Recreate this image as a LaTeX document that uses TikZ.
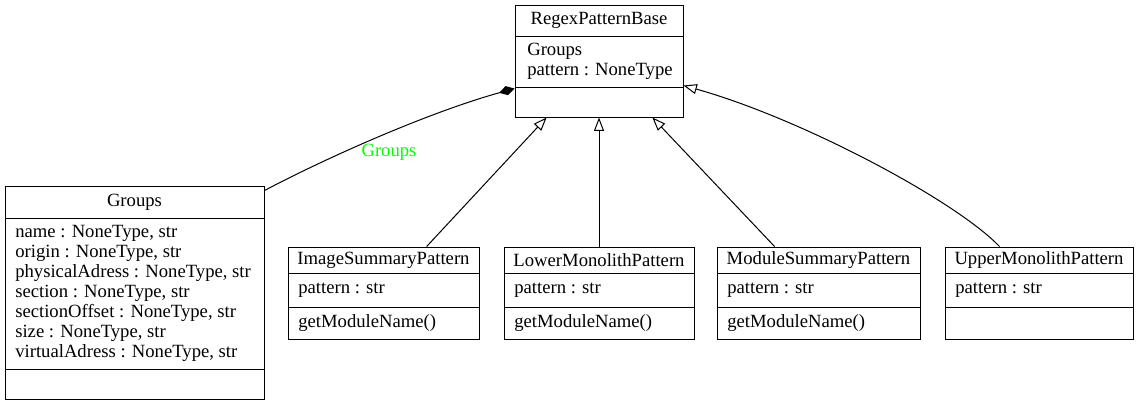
\documentclass[tikz,border=0pt]{standalone}
\usepackage{fontspec}
\setmainfont{Liberation Serif}
\newfontfamily\tmsfont{Liberation Serif}
\usetikzlibrary{arrows.meta,fit,calc}
\definecolor{lblgreen}{RGB}{0,255,0}
\tikzset{
  box/.style={draw, inner sep=0pt, line width=0.75pt},
  sep/.style={line width=0.75pt},
  lbl/.style={font=\tmsfont\fontsize{14}{15}\selectfont, inner sep=0pt},
  attr/.style={lbl, anchor=west, align=left},
  inherit/.style={-{Triangle[open,fill=white,length=10pt,width=7.5pt]}, line width=0.75pt},
  compose/.style={-{Diamond[fill=black,length=12pt,width=7pt]}, line width=0.75pt},
}
\begin{document}
\begin{tikzpicture}[x=0.75pt,y=-0.75pt]
\useasboundingbox (0,0) rectangle (1138,405);
% RegexPatternBase
\node[box, fit={(515,5) (683,117)}] (base) {};
\draw[sep] (515,36) -- (683,36);
\draw[sep] (515,87) -- (683,87);
\node[lbl] (baseT) at (599,20.5) {RegexPatternBase};
\node[attr] (baseA) at (527,61.5) {Groups\\pattern : NoneType};
% Groups
\node[box, fit={(5,186) (264,399)}] (groups) {};
\draw[sep] (5,218) -- (264,218);
\draw[sep] (5,369) -- (264,369);
\node[lbl] (groupsT) at (134.5,202) {Groups};
\node[attr] (groupsA) at (15,293) {name : NoneType, str\\origin : NoneType, str\\physicalAdress : NoneType, str\\section : NoneType, str\\sectionOffset : NoneType, str\\size : NoneType, str\\virtualAdress : NoneType, str};
% ImageSummaryPattern
\node[box, fit={(288,247) (479,339)}] (img) {};
\draw[sep] (288,273) -- (479,273);
\draw[sep] (288,307) -- (479,307);
\node[lbl] (imgT) at (383.5,260) {ImageSummaryPattern};
\node[attr] (imgA) at (298,290) {pattern : str};
\node[attr] (imgM) at (298,323) {getModuleName()};
% LowerMonolithPattern
\node[box, fit={(504,247) (694,339)}] (lower) {};
\draw[sep] (504,273) -- (694,273);
\draw[sep] (504,307) -- (694,307);
\node[lbl] (lowerT) at (599,260) {LowerMonolithPattern};
\node[attr] (lowerA) at (514,290) {pattern : str};
\node[attr] (lowerM) at (514,323) {getModuleName()};
% ModuleSummaryPattern
\node[box, fit={(717,247) (920,339)}] (module) {};
\draw[sep] (717,273) -- (920,273);
\draw[sep] (717,307) -- (920,307);
\node[lbl] (moduleT) at (818.5,260) {ModuleSummaryPattern};
\node[attr] (moduleA) at (727,290) {pattern : str};
\node[attr] (moduleM) at (727,323) {getModuleName()};
% UpperMonolithPattern
\node[box, fit={(945,247) (1133,339)}] (upper) {};
\draw[sep] (945,273) -- (1133,273);
\draw[sep] (945,307) -- (1133,307);
\node[lbl] (upperT) at (1039,260) {UpperMonolithPattern};
\node[attr] (upperA) at (955,290) {pattern : str};
% edges
\draw[inherit] (img) -- (base);
\draw[inherit] (lower) -- (base);
\draw[inherit] (module) -- (base);
\coordinate (uS) at ($(upper.north west)+(55,0)$);
\coordinate (uE) at ($(base.south east)+(0,-32)$);
\draw[inherit] (uS) .. controls (955,200) and (800,118) .. (uE);
\coordinate (gS) at ($(groups.north east)+(0,5)$);
\coordinate (gE) at ($(base.south west)+(0,-29)$);
\draw[compose] (gS) .. controls (330,156) and (430,112) .. (gE);
\node[lbl, text=lblgreen] (glbl) at (389,152) {Groups};
\end{tikzpicture}
\end{document}
